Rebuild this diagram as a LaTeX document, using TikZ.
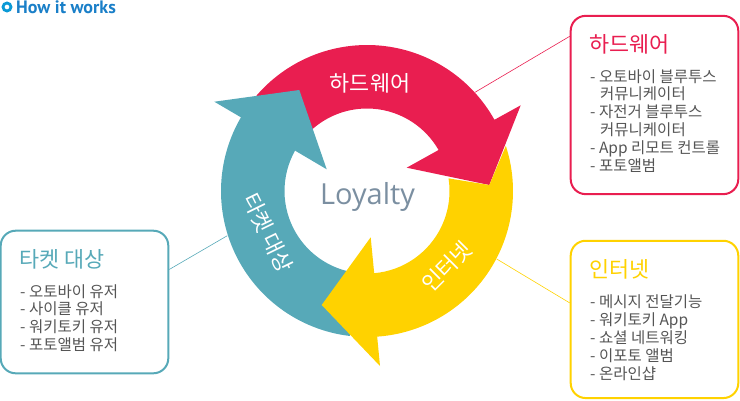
\documentclass[tikz,border=0pt]{standalone}
\usepackage{fontspec}
\setmainfont{Noto Sans CJK KR}
\newfontfamily\loyfont{Open Sans}
\newfontfamily\howfont{PT Sans}
\usetikzlibrary{calc}
\definecolor{hwred}{HTML}{E91E50}
\definecolor{netyel}{HTML}{FFD200}
\definecolor{tgteal}{HTML}{57A9B8}
\definecolor{howblue}{HTML}{1A7FC8}
\definecolor{howring}{HTML}{0A9AD6}
\definecolor{bodygrey}{HTML}{555555}
\definecolor{loygrey}{HTML}{7B8FA1}
\tikzset{
  infobox/.style={draw=#1,line width=2pt,rounded corners=15pt,fill=white,inner sep=0pt},
  linkline/.style={draw=#1,line width=0.6pt},
  boxtitle/.style={text=#1,anchor=west,inner sep=0pt,font=\fontsize{21.8}{26}\selectfont},
  boxbody/.style={text=bodygrey,anchor=north west,align=left,inner sep=0pt,font=\fontsize{15.5}{17.95}\selectfont},
  ringlabel/.style={text=white,inner sep=0pt,font=\fontsize{21.8}{26}\selectfont}
}
\begin{document}
\begin{tikzpicture}[x=1pt,y=1pt]
\useasboundingbox (0,0) rectangle (740,400);
\coordinate (C) at (367,209);
% heading
\node[circle,draw=howring,line width=2.8pt,minimum size=8pt,inner sep=0pt] (howicon) at (7,393) {};
\node[anchor=west,inner sep=0pt,text=howblue,font=\fontsize{18}{20}\selectfont\howfont\bfseries] (howtext) at (16,393) {How it works};
% boxes
\node[infobox=hwred,minimum width=167.6pt,minimum height=178.3pt] (hwbox) at (654.5,295) {};
\node[infobox=netyel,minimum width=167.6pt,minimum height=157.3pt] (netbox) at (654.5,80.6) {};
\node[infobox=tgteal,minimum width=167.6pt,minimum height=142.6pt] (tgbox) at (84.5,98) {};
% connector ends on the ring
\coordinate (hwring) at (475,307.7);
\coordinate (netring) at (496.7,141);
\coordinate (tgring) at (227.3,164.3);
\draw[linkline=hwred] (hwring) -- (hwbox.141.5);
\draw[linkline=netyel] (netring) -- (netbox.169.6);
\draw[linkline=tgteal] (tgring) -- (tgbox.21.9);
% ring arrows
\fill[hwred] ($(C)+(139.2:146)$) arc[start angle=139.2,end angle=29.2,radius=146]
  -- (520.7,294.7) -- (489.3,215) -- (406.7,232.3)
  -- ($(C)+(29.8:82.5)$) arc[start angle=29.8,end angle=135,radius=82.5] -- cycle;
\fill[tgteal] ($(C)+(263.3:146)$) arc[start angle=263.3,end angle=149.7,radius=146]
  -- (214.3,298.3) -- (299.3,310) -- (326.7,230.7) -- (295.7,249)
  -- ($(C)+(150.7:82.5)$) arc[start angle=150.7,end angle=258,radius=82.5] -- cycle;
\fill[netyel] ($(C)+(18:146)$) arc[start angle=18,end angle=-86,radius=146]
  -- (380,34) -- (321.7,95) -- (370.7,162.7)
  -- ($(C)+(-85:82.5)$) arc[start angle=-85,end angle=8.8,radius=82.5]
  -- (489.3,215) -- cycle;
% ring labels
\node[ringlabel] (hwlabel) at (370,317) {하드웨어};
\node[ringlabel,rotate=-64] (tglabel) at (268,167) {타켓 대상};
\node[ringlabel,rotate=45] (netlabel) at (446.7,133.5) {인터넷};
\node[inner sep=0pt,text=loygrey,font=\fontsize{29}{34}\selectfont\loyfont] (loyalty) at (367.5,203.5) {Loyalty};
% box text
\node[boxtitle=hwred] (hwtitle) at (589.5,356) {하드웨어};
\node[boxbody] (hwbody) at (590,331) {- 오토바이 블루투스\\\hspace*{10pt}커뮤니케이터\\- 자전거 블루투스\\\hspace*{10pt}커뮤니케이터\\- App 리모트 컨트롤\\- 포토앨범};
\node[boxtitle=netyel] (nettitle) at (589.5,131) {인터넷};
\node[boxbody] (netbody) at (590,105.5) {- 메시지 전달기능\\- 워키토키 App\\- 쇼셜 네트워킹\\- 이포토 앨범\\- 온라인샵};
\node[boxtitle=tgteal] (tgtitle) at (19.5,141) {타켓 대상};
\node[boxbody] (tgbody) at (20,116) {- 오토바이 유저\\- 사이클 유저\\- 워키토키 유저\\- 포토앨범 유저};
\end{tikzpicture}
\end{document}
